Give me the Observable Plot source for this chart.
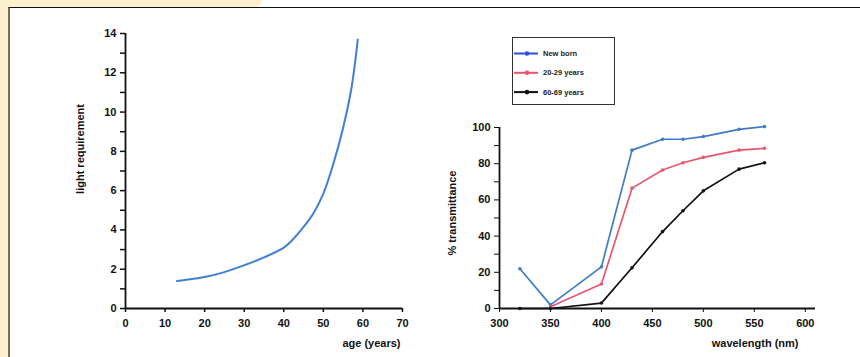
<!DOCTYPE html>
<html><head><meta charset="utf-8">
<script src="https://cdn.jsdelivr.net/npm/d3@7"></script>
<script src="https://cdn.jsdelivr.net/npm/@observablehq/plot@0.6"></script>
<style>
html,body{margin:0;padding:0;background:#fff;width:860px;height:357px;overflow:hidden;font-family:"Liberation Sans",Arial,sans-serif;}
#beigeTop{position:absolute;left:0;top:0;width:262px;height:8px;background:#fdf0cf;border-bottom-right-radius:10px 8px;}
#beigeLeft{position:absolute;left:0;top:0;width:8px;height:357px;background:#fdf0cf;}
#panel{position:absolute;left:8px;top:7px;width:852px;height:350px;border-top:1.5px solid #111;border-left:2px solid #776c5c;box-sizing:border-box;background:#fff;}
.chart{position:absolute;top:0;}
#left{left:0;} #right{left:430px;}
#legend{position:absolute;left:512px;top:37px;width:103px;height:68px;border:1.5px solid #333;box-sizing:border-box;background:#fff;}
</style>
</head><body>
<div id="beigeTop"></div><div id="beigeLeft"></div><div id="panel"></div>
<div id="left" class="chart"></div>
<div id="right" class="chart"></div>
<div id="legend"></div>
<script>
// Left chart data
const ages = [13, 15, 20, 25, 30, 35, 40, 42, 45, 47.5, 50, 52.5, 55, 57, 58, 58.7];
const lightReq = [1.4, 1.45, 1.6, 1.85, 2.2, 2.6, 3.1, 3.45, 4.15, 4.85, 5.85, 7.35, 9.2, 11.1, 12.5, 13.7];
const ageTicks = [0, 10, 20, 30, 40, 50, 60, 70];
const lightTicks = [0,1,2,3,4,5,6,7,8,9,10,11,12,13,14];

// Right chart data
const wavelengths = [320, 350, 400, 430, 460, 480, 500, 535, 560];
const seriesNames = ["New born", "20-29 years", "60-69 years"];
const seriesColors = ["#3f7cc8", "#e8566f", "#111111"];
const legendColors = ["#2a4fd8", "#f0506a", "#111111"];
const newborn = [22, 2, 23, 87.5, 93.5, 93.5, 95, 99, 100.5];
const age20 = [null, 1, 13.5, 66.5, 76.5, 80.5, 83.5, 87.5, 88.5];
const age60 = [0, 0, 3, 22.5, 42.5, 54, 65, 77, 80.5];
const wlTicks = [300, 350, 400, 450, 500, 550, 600];
const transTicks = [0,10,20,30,40,50,60,70,80,90,100];

const font = {background: "transparent", fontFamily: "'Liberation Sans', Arial, sans-serif", fontSize: "11px", fontWeight: "bold", color: "#111", overflow: "visible"};

const ageData = ages.map((a, i) => ({age: a, v: lightReq[i]}));

const left = Plot.plot({
  width: 430, height: 357,
  marginLeft: 125, marginRight: 28, marginTop: 33, marginBottom: 49,
  style: font,
  x: {domain: [0, 70]},
  y: {domain: [0, 14]},
  marks: [
    Plot.axisX({ticks: ageTicks, tickSize: 4, tickPadding: 7, label: null, strokeWidth: 1.5}),
    Plot.axisY({ticks: lightTicks, tickFormat: d => d % 2 ? "" : d, tickSize: 5, tickPadding: 4, label: null, strokeWidth: 1.5}),
    Plot.ruleX([0], {strokeWidth: 1.8}),
    Plot.ruleY([0], {strokeWidth: 1.8}),
    Plot.line(ageData, {x: "age", y: "v", stroke: "#3f7fd6", strokeWidth: 2, curve: "catmull-rom"}),
    Plot.text(["age (years)"], {frameAnchor: "bottom-right", textAnchor: "end", lineAnchor: "middle", dx: -2, dy: 35, fontSize: 11}),
    Plot.text(["light requirement"], {frameAnchor: "left", rotate: -90, textAnchor: "middle", lineAnchor: "middle", dx: -45, dy: -22, fontSize: 11})
  ]
});
document.getElementById("left").append(left);

const seriesValues = [newborn, age20, age60];
const rows = [];
seriesNames.forEach((s, si) => {
  wavelengths.forEach((w, i) => {
    const v = seriesValues[si][i];
    if (v != null) rows.push({series: s, wl: w, v});
  });
});

const right = Plot.plot({
  width: 430, height: 357,
  marginLeft: 69, marginRight: 45, marginTop: 127, marginBottom: 49,
  style: font,
  x: {domain: [300, 610]},
  y: {domain: [0, 100]},
  color: {domain: seriesNames, range: seriesColors},
  marks: [
    Plot.axisX({ticks: wlTicks, tickSize: 4, tickPadding: 7, label: null}),
    Plot.axisY({ticks: transTicks, tickFormat: d => d % 20 ? "" : d, tickSize: 5, tickPadding: 4, label: null}),
    Plot.ruleX([300], {strokeWidth: 1.8}),
    Plot.ruleY([0], {strokeWidth: 1.8}),
    Plot.line(rows, {x: "wl", y: "v", z: "series", stroke: "series", strokeWidth: 1.7}),
    Plot.dot(rows, {x: "wl", y: "v", fill: "series", r: 1.8}),
    Plot.text(["wavelength (nm)"], {frameAnchor: "bottom-right", textAnchor: "end", lineAnchor: "middle", dx: -17, dy: 35, fontSize: 11}),
    Plot.text(["% transmittance"], {frameAnchor: "left", rotate: -90, textAnchor: "middle", lineAnchor: "middle", dx: -47, dy: -5, fontSize: 11})
  ]
});
document.getElementById("right").append(right);

// Legend
const lg = d3.select("#legend").append("svg").attr("width", 100).attr("height", 65)
  .style("position", "absolute").style("left", "0px").style("top", "0px");
seriesNames.forEach((s, i) => {
  const y = 15.5 + i * 19.3;
  lg.append("line").attr("x1", 1).attr("x2", 25).attr("y1", y).attr("y2", y)
    .attr("stroke", legendColors[i]).attr("stroke-width", 2);
  lg.append("circle").attr("cx", 14).attr("cy", y).attr("r", 2.3).attr("fill", legendColors[i]);
  lg.append("text").attr("x", 30).attr("y", y).attr("dy", "0.35em")
    .attr("font-family", "'Liberation Sans', Arial, sans-serif").attr("font-size", 7.5)
    .attr("font-weight", "bold").attr("fill", "#222").text(s);
});
</script>
</body></html>
